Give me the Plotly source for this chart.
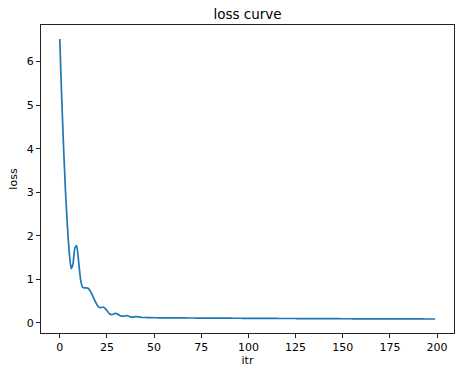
import plotly.graph_objects as go

itr = list(range(200))
loss = [
    6.52, 5.20, 4.05, 3.05, 2.25, 1.62, 1.24, 1.35, 1.72, 1.77,
    1.40, 1.00, 0.82, 0.80, 0.80, 0.79, 0.74, 0.66, 0.56, 0.47,
    0.39, 0.35, 0.35, 0.36, 0.33, 0.28, 0.22, 0.19, 0.19, 0.21,
    0.21, 0.19, 0.16, 0.15, 0.15, 0.16, 0.16, 0.14, 0.13, 0.13,
    0.14, 0.14, 0.13, 0.125, 0.12, 0.12, 0.118, 0.117, 0.116, 0.115,
    0.114, 0.114, 0.113, 0.113, 0.113, 0.112, 0.112, 0.112, 0.111, 0.111,
    0.111, 0.110, 0.110, 0.110, 0.109, 0.109, 0.109, 0.109, 0.108, 0.108,
    0.108, 0.108, 0.107, 0.107, 0.107, 0.107, 0.106, 0.106, 0.106, 0.106,
    0.105, 0.105, 0.105, 0.105, 0.104, 0.104, 0.104, 0.104, 0.103, 0.103,
    0.103, 0.103, 0.102, 0.102, 0.102, 0.102, 0.102, 0.101, 0.101, 0.101,
    0.101, 0.100, 0.100, 0.100, 0.100, 0.100, 0.099, 0.099, 0.099, 0.099,
    0.099, 0.098, 0.098, 0.098, 0.098, 0.098, 0.097, 0.097, 0.097, 0.097,
    0.097, 0.096, 0.096, 0.096, 0.096, 0.096, 0.095, 0.095, 0.095, 0.095,
    0.095, 0.095, 0.094, 0.094, 0.094, 0.094, 0.094, 0.093, 0.093, 0.093,
    0.093, 0.093, 0.093, 0.092, 0.092, 0.092, 0.092, 0.092, 0.092, 0.091,
    0.091, 0.091, 0.091, 0.091, 0.091, 0.090, 0.090, 0.090, 0.090, 0.090,
    0.090, 0.090, 0.089, 0.089, 0.089, 0.089, 0.089, 0.089, 0.089, 0.088,
    0.088, 0.088, 0.088, 0.088, 0.088, 0.088, 0.088, 0.087, 0.087, 0.087,
    0.087, 0.087, 0.087, 0.087, 0.087, 0.086, 0.086, 0.086, 0.086, 0.086,
    0.086, 0.086, 0.086, 0.086, 0.085, 0.085, 0.085, 0.085, 0.085, 0.085,
]
x_ticks = [0, 25, 50, 75, 100, 125, 150, 175, 200]
y_ticks = [0, 1, 2, 3, 4, 5, 6]

fig = go.Figure()
fig.add_trace(go.Scatter(x=itr, y=loss, mode="lines",
                         line=dict(color="#1f77b4", width=1.7, shape="spline", smoothing=0.4)))

font = dict(family="DejaVu Sans", size=11, color="black")
axis_common = dict(showgrid=False, zeroline=False, showline=True, linecolor="#222",
                   linewidth=1, mirror=True, ticks="outside", ticklen=4, tickwidth=1,
                   tickcolor="#222", tickfont=font, automargin=False)

xmin, xmax = min(itr), max(itr)
xpad = (xmax - xmin) * 0.05
ymin, ymax = min(loss), max(loss)
ypad = (ymax - ymin) * 0.05

fig.update_layout(
    width=462, height=378,
    margin=dict(l=41, r=8, t=25, b=45),
    paper_bgcolor="white", plot_bgcolor="white",
    showlegend=False,
    font=font,
    title=dict(text="loss curve", x=0.5, xref="paper", xanchor="center",
               y=1 - 14/378, yref="container", yanchor="middle",
               font=dict(family="DejaVu Sans", size=13.5, color="black")),
    xaxis=dict(range=[xmin - xpad, xmax + xpad], tickvals=x_ticks,
               title=dict(text="itr", font=font, standoff=2), **axis_common),
    yaxis=dict(range=[ymin - ypad, ymax + ypad], tickvals=y_ticks,
               title=dict(text="loss", font=font, standoff=6), **axis_common),
)
fig.write_html("out.html", config={"displayModeBar": False},
               post_script="document.body.style.margin='0';document.body.style.overflow='hidden';")
